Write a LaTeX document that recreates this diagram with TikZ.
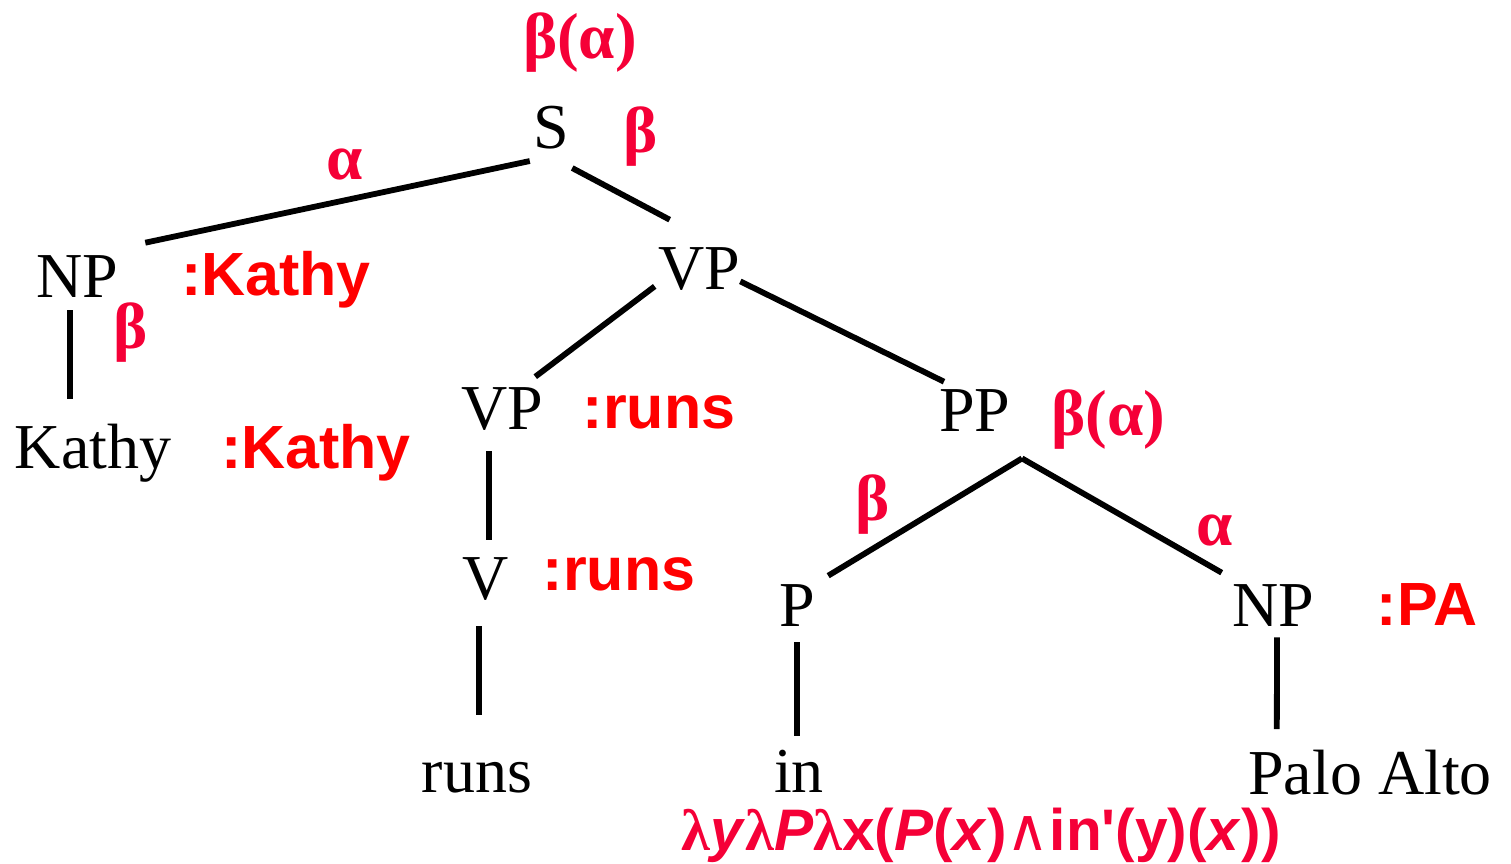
\documentclass[tikz,border=0pt]{standalone}
\usepackage{fontspec}
\setmainfont{Liberation Serif}
\newfontfamily\semfont{Liberation Sans}
\newfontfamily\opfont{DejaVu Sans}
\usetikzlibrary{positioning}
\definecolor{greekred}{RGB}{245,0,55}
\definecolor{labred}{RGB}{255,0,0}
\newcommand\gl{{\rmfamily\bfseries λ}}

\begin{document}
\begin{tikzpicture}[x=0.5pt,y=-0.5pt]
\tikzset{
  cat/.style={anchor=base,inner sep=0pt,font=\fontsize{32}{36}\selectfont},
  sem/.style={anchor=base,inner sep=0pt,text=labred,font=\semfont\bfseries\fontsize{30.5}{36}\selectfont},
  gk/.style={inner sep=0pt,text=greekred,font=\bfseries\fontsize{32.5}{36}\selectfont},
  branch/.style={line width=2.9pt}
}
\useasboundingbox (0,0) rectangle (1511,863);
% categories
\node[cat] (n_s) at (551,148) {S};
\node[cat] (n_np) at (77,297) {NP};
\node[cat] (n_kathy) at (93,468) {Kathy};
\node[cat] (n_vp) at (699,289) {VP};
\node[cat] (n_vpl) at (502,429) {VP};
\node[cat] (n_v) at (486,599) {V};
\node[cat] (n_runs) at (477,792) {runs};
\node[cat] (n_pp) at (975,431) {PP};
\node[cat] (n_p) at (797,626) {P};
\node[cat] (n_np2) at (1273,626) {NP};
\node[cat] (n_in) at (799,792) {in};
\node[cat] (n_pa) at (1370,794) {Palo Alto};
% semantic values
\node[sem] (v_kathy1) at (276,295) {:Kathy};
\node[sem] (v_kathy2) at (316,468) {:Kathy};
\node[sem] (v_runs1) at (659,428) {:runs};
\node[sem] (v_runs2) at (619,590) {:runs};
\node[sem] (v_pa) at (1427,625) {:PA};
\node[sem,text=greekred,font=\semfont\bfseries\fontsize{29.3}{36}\selectfont] (v_in) at (981,850)
  {\gl\textit{y}\gl\textit{P}\gl x(\textit{P}(\textit{x}){\opfont\mdseries ∧}in'(y)(\textit{x}))};
% function / argument marks
\node[gk] (g_top) at (580,43) {β(α)};
\node[gk] (g_sb) at (641,137) {β};
\node[gk] (g_sa) at (345,164) {α};
\node[gk] (g_npb) at (131,333) {β};
\node[gk] (g_pp) at (1108,420) {β(α)};
\node[gk] (g_pb) at (873,505) {β};
\node[gk] (g_pa) at (1215,530) {α};
% branches
\coordinate (c_pp) at ([shift={(11,27)}]n_pp.south east);
\draw[branch] ([shift={(-3,12)}]n_s.south west) -- ([shift={(27,-12)}]n_np.north east);
\draw[branch] ([shift={(3,19)}]n_s.south east) -- ([shift={(12,-27)}]n_vp.north west);
\draw[branch] ([shift={(-7,13)}]n_np.south) -- ([shift={(-23,-24)}]n_kathy.north);
\draw[branch] ([shift={(-3,-4)}]n_vp.south west) -- ([shift={(-8,-10)}]n_vpl.north east);
\draw[branch] ([shift={(0,-9)}]n_vp.south east) -- ([shift={(5,-7)}]n_pp.north west);
\draw[branch] ([shift={(-13,21)}]n_vpl.south) -- ([shift={(3,-17)}]n_v.north);
\draw[branch] ([shift={(-7,26)}]n_v.south) -- ([shift={(2,-46)}]n_runs.north);
\draw[branch] (c_pp) -- ([shift={(13,-8)}]n_p.north east);
\draw[branch] (c_pp) -- ([shift={(-10,-11)}]n_np2.north west);
\draw[branch] ([shift={(0,16)}]n_p.south) -- ([shift={(-2,-13)}]n_in.north);
\draw[branch] ([shift={(4,11)}]n_np2.south) -- ([shift={(29,-20)}]n_pa.north west);
\end{tikzpicture}
\end{document}
